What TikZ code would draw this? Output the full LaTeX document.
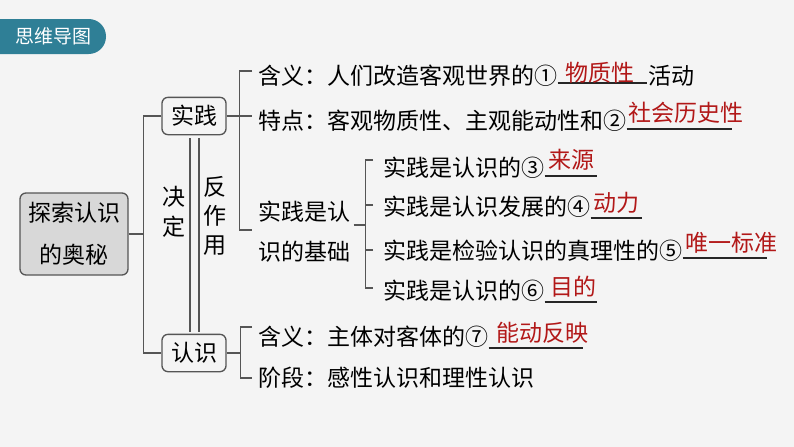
\documentclass[tikz,border=0pt]{standalone}
\usepackage{fontspec}
\newfontfamily\zhfont{Noto Sans CJK SC}
\usetikzlibrary{calc,positioning}
\definecolor{tabteal}{RGB}{47,127,150}
\definecolor{bggray}{RGB}{244,244,244}
\definecolor{boxgray}{RGB}{216,216,216}
\definecolor{linegray}{RGB}{85,85,85}
\definecolor{ansred}{RGB}{178,24,24}
\newcommand{\zh}{\zhfont\fontsize{17.25}{22}\selectfont}

\begin{document}
\begin{tikzpicture}[x=0.75pt,y=-0.75pt,
  topic/.style={draw=linegray, line width=1pt, rounded corners=4.5pt,
    minimum width=48pt, minimum height=28pt, inner sep=0pt, font=\zh},
  item/.style={anchor=west, inner sep=0pt, font=\zh},
  ans/.style={inner sep=0pt, text=ansred, font=\zh},
  link/.style={draw=linegray, line width=1pt},
  blank/.style={draw=black!85, line width=0.9pt}]

  \fill[bggray] (0,0) rectangle (794,447);
  \useasboundingbox (0,0) rectangle (794,447);

  % title tab
  \fill[tabteal, rounded corners=13pt] (-30,19) rectangle (106,54);
  \node [text=white, inner sep=0pt,
    font=\zhfont\fontsize{14.25}{16}\selectfont
  ] (title) at (54,36.5) {思维导图};

  % main topics
  \node [topic,
    fill=boxgray,
    minimum width=81pt, minimum height=61.5pt,
    align=center,
    font=\zhfont\fontsize{17.25}{31.5}\selectfont
  ] (root) at (74,234) {探索认识\\的奥秘};

  \node [topic] (sj) at (194,116) {实践};
  \node [topic] (rs) at (194,353) {认识};

  \node [inner sep=0pt, align=center,
    font=\zhfont\fontsize{17.25}{22.5}\selectfont
  ] (jd) at (174,212) {决\\定};
  \node [inner sep=0pt, align=center,
    font=\zhfont\fontsize{17.25}{21.75}\selectfont
  ] (fzy) at (215,216) {反\\作\\用};

  \draw[link] (root.east) -- ++(15,0) coordinate (rootfork);
  \draw[link] (sj.west) -| (rootfork) |- (rs.west);
  \draw[link, shorten <=2pt, shorten >=1pt] ([xshift=-3pt]sj.south) -- ([xshift=-3pt]rs.north);
  \draw[link, shorten <=2pt, shorten >=1pt] ([xshift=3.75pt]sj.south) -- ([xshift=3.75pt]rs.north);

  % practice
  \node [item] (s1) at (258,76) {含义：人们改造客观世界的①};
  \draw[blank] (s1.east |- 0,83) -- (647,83);
  \node [ans] (a1) at (600,73) {物质性};
  \node [item] (s1b) at (648,76) {活动};

  \node [item] (s2) at (258,121) {特点：客观物质性、主观能动性和②};
  \draw[blank] (s2.east |- 0,129) -- (732,129);
  \node [ans] (a2) at (686,113) {社会历史性};

  \node [item, align=left,
    font=\zhfont\fontsize{17.25}{30}\selectfont
  ] (s3) at (258,232) {实践是认\\识的基础};

  \draw[link] (sj.east) -- ++(13,0) coordinate (sjfork) -- ++(12,0);
  \draw[link] ($(s1.west)+(-6,-5)$) -| (sjfork) |- ($(s3.west)+(-6,-2)$);

  \node [item] (t1) at (383,168) {实践是认识的③};
  \draw[blank] (t1.east |- 0,176) -- (597,176);
  \node [ans] (a3) at (571,160) {来源};

  \node [item] (t2) at (383,207) {实践是认识发展的④};
  \draw[blank] (t2.east |- 0,218) -- (642,218);
  \node [ans] (a4) at (616,203) {动力};

  \node [item] (t3) at (383,251) {实践是检验认识的真理性的⑤};
  \draw[blank] (t3.east |- 0,258) -- (767,258);
  \node [ans] (a5) at (731,243) {唯一标准};

  \node [item] (t4) at (383,291) {实践是认识的⑥};
  \draw[blank] (t4.east |- 0,302) -- (597,302);
  \node [ans] (a6) at (573,287) {目的};

  \draw[link] ($(s3.east)+(3,-7)$) -- ++(12,0) coordinate (s3fork);
  \draw[link] ($(t1.west)+(-10,-8)$) -| (s3fork) |- ($(t4.west)+(-10,-3)$);
  \draw[link] ($(t2.west)+(-10,-2)$) -- ++(-8,0);
  \draw[link] ($(t3.west)+(-10,-1)$) -- ++(-8,0);

  % cognition
  \node [item] (r1) at (258,337) {含义：主体对客体的⑦};
  \draw[blank] (r1.east |- 0,348) -- (583,348);
  \node [ans] (a7) at (542,333) {能动反映};

  \node [item] (r2) at (258,378) {阶段：感性认识和理性认识};

  \draw[link] (rs.east) -- ++(14,0) coordinate (rsfork);
  \draw[link] ($(r1.west)+(-6,-10)$) -| (rsfork) |- ($(r2.west)+(-6,0)$);
\end{tikzpicture}
\end{document}
